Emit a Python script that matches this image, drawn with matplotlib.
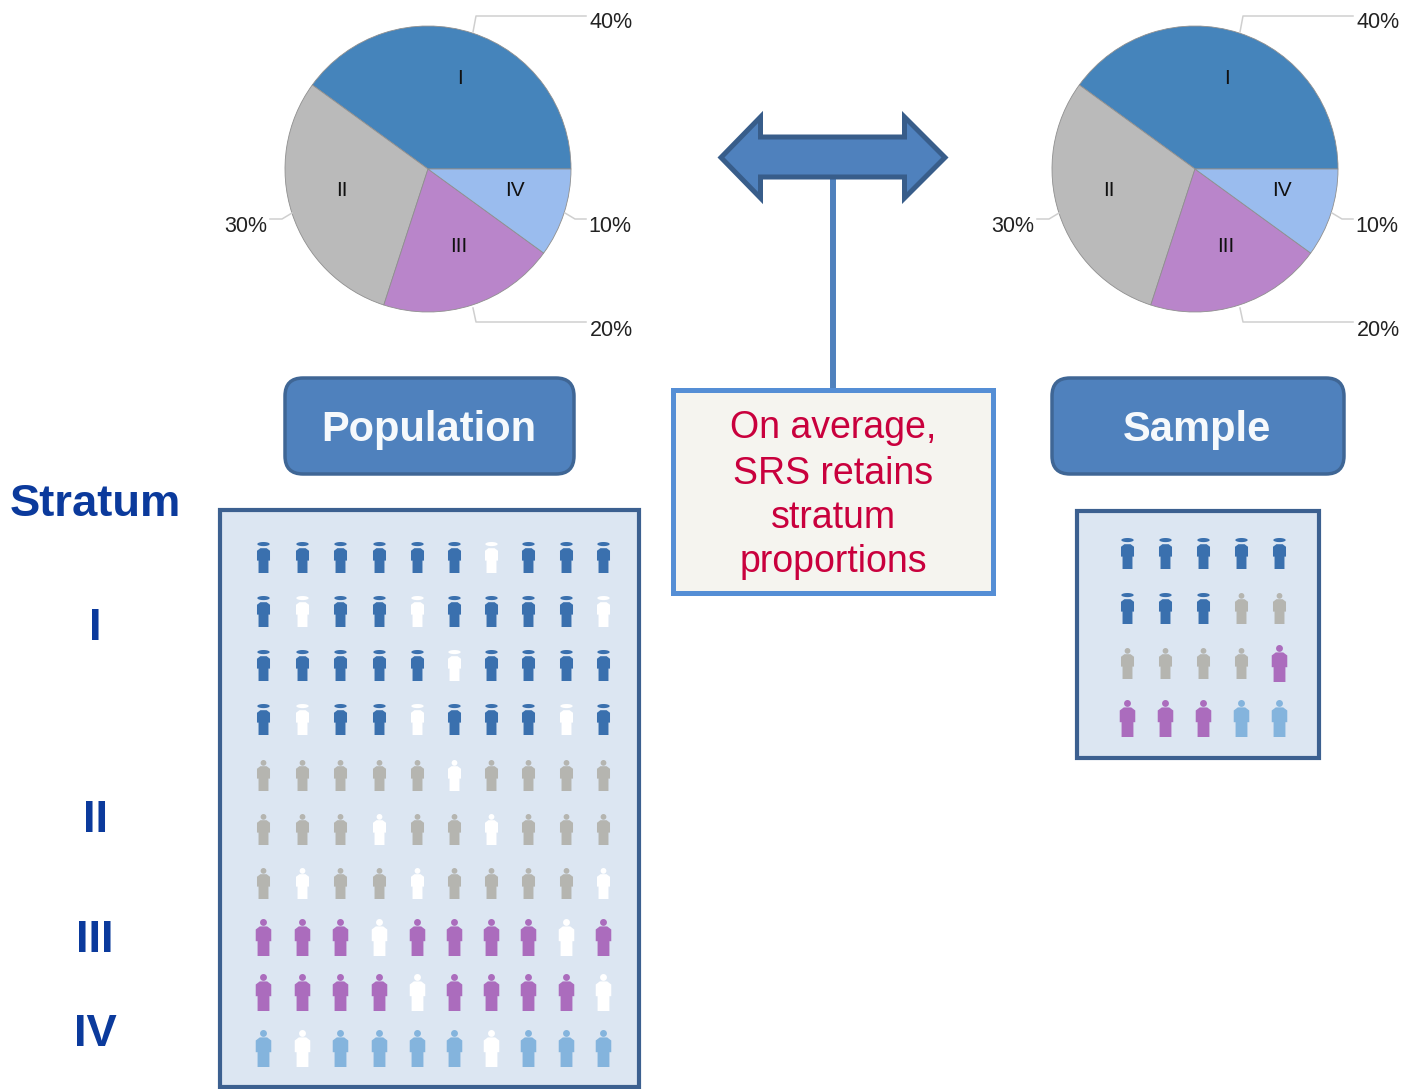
import matplotlib
matplotlib.use("Agg")
import matplotlib.pyplot as plt
from matplotlib.patches import FancyBboxPatch, Polygon, Rectangle
from matplotlib.path import Path
import numpy as np

plt.rcParams['font.family'] = ['Liberation Sans', 'DejaVu Sans']

W, H = 1403, 1089

strata = ['I', 'II', 'III', 'IV']
shares = [40, 30, 20, 10]
pie_colors = ['#4584bb', '#bababa', '#b985ca', '#9abcee']
icon_colors = ['#3a70ae', '#b5b5b0', '#ab6cbd', '#84b4dd']

# stratum index per icon row, and which icons are blanked out (row, col)
pop_rows = [0, 0, 0, 0, 1, 1, 1, 2, 2, 3]
pop_white = [(0, 6), (1, 1), (1, 4), (1, 9), (2, 5), (3, 1), (3, 4), (3, 8), (4, 5),
             (5, 3), (5, 6), (6, 1), (6, 4), (6, 9), (7, 3), (7, 8), (8, 4), (8, 9),
             (9, 1), (9, 6)]
sample_strata = [[0, 0, 0, 0, 0],
                 [0, 0, 0, 1, 1],
                 [1, 1, 1, 1, 2],
                 [2, 2, 2, 3, 3]]

pop_x = [263, 302, 340, 379, 417, 454, 491, 528, 566, 603]
pop_y = [557, 611, 665, 719, 775, 829, 883, 937, 992, 1048]
sample_x = [1127, 1165, 1203, 1241, 1279]
sample_y = [553, 608, 663, 718]

side_labels = ['Stratum', 'I', 'II', 'III', 'IV']
side_y = [501, 625, 817, 937, 1031]
note_lines = ['On average,', 'SRS retains', 'stratum', 'proportions']
note_y = [426, 471, 515, 560]

fig = plt.figure(figsize=(W / 100, H / 100), dpi=100)
ax = fig.add_axes([0, 0, 1, 1], zorder=2)
ax.set_xlim(0, W)
ax.set_ylim(H, 0)
ax.axis('off')


def person_marker(head_rx, head_ry, head_y):
    t = np.linspace(0, 2 * np.pi, 24)
    head = np.column_stack([head_rx * np.cos(t), head_y + head_ry * np.sin(t)])
    body = np.array([(-3, 9), (3, 9), (6.3, 6.5), (6.3, -3), (4.8, -3), (4.8, -15), (-4.8, -15),
                     (-4.8, -3), (-6.3, -3), (-6.3, 6.5), (-3, 9)])
    verts = np.vstack([head, body])
    codes = [Path.MOVETO] + [Path.LINETO] * 23 + [Path.MOVETO] + [Path.LINETO] * 10
    return Path(verts, codes)


# the dark blue figures look capped, the others have a small round head
MARKERS = [person_marker(6, 2, 13), person_marker(2.8, 2.8, 12.2),
           person_marker(2.8, 2.8, 12.2), person_marker(2.8, 2.8, 12.2)]
ICON_PX = [31, 31, 37, 37]


def draw_icon(x, y, stratum, color):
    size = (ICON_PX[stratum] * 0.72) ** 2
    ax.scatter(x, y, marker=MARKERS[stratum], s=size, color=color, linewidths=0, zorder=3)


def draw_pie(cx, cy, r):
    pie_ax = fig.add_axes([(cx - r) / W, (H - cy - r) / H, 2 * r / W, 2 * r / H], zorder=1)
    wedges, _ = pie_ax.pie(shares, colors=pie_colors, startangle=0, counterclock=True, radius=1,
                           wedgeprops={'edgecolor': '#8f8f8f', 'linewidth': 0.6})
    for w in wedges:
        w.set_clip_on(False)
    pie_ax.set_xlim(-1, 1)
    pie_ax.set_ylim(-1, 1)

    # leader lines and labels, relative to the pie centre
    leaders = [[(45, -137), (48, -153), (158, -153)],
               [(-136, 44), (-146, 50), (-158, 50)],
               [(137, 44), (147, 50), (158, 50)],
               [(45, 139), (48, 153), (158, 153)]]
    for pts in leaders:
        ax.plot([cx + p[0] for p in pts], [cy + p[1] for p in pts], color='#cfcfcf', lw=1.1, zorder=1)
    for txt, dx, dy in zip(['40%', '30%', '20%', '10%'], [183, -182, 183, 182], [-146, 58, 161, 58]):
        ax.text(cx + dx, cy + dy, txt, fontsize=15.5, color='#222222', ha='center', va='center')
    for txt, dx, dy in zip(strata, [32, -86, 31, 87], [-91, 21, 78, 21]):
        ax.text(cx + dx, cy + dy, txt, fontsize=15, color='#111111', ha='center', va='center', zorder=5)


def draw_button(x0, y0, x1, y1, label, size):
    ax.add_patch(FancyBboxPatch((x0 + 18, y0 + 18), x1 - x0 - 36, y1 - y0 - 36,
                                boxstyle='round,pad=18,rounding_size=18', fc='#4f81bd', ec='#3f6695', lw=2.5))
    ax.text((x0 + x1) / 2 - 1, (y0 + y1) / 2 + 4, label, fontsize=size, fontweight='bold', color='#f6f9fc',
            ha='center', va='center')


def draw_panel(x0, y0, x1, y1):
    ax.add_patch(Rectangle((x0, y0), x1 - x0, y1 - y0, fc='#dce6f2', ec='#3c6090', lw=3, joinstyle='miter'))


draw_pie(428, 169, 143)
draw_pie(1195, 169, 143)
draw_button(285, 378, 574, 474, 'Population', 30)
draw_button(1052, 378, 1344, 474, 'Sample', 30)
draw_panel(220, 510, 639, 1087)
draw_panel(1077, 511, 1319, 758)

# population icons
for r, yy in enumerate(pop_y):
    for c, xx in enumerate(pop_x):
        col = '#ffffff' if (r, c) in pop_white else icon_colors[pop_rows[r]]
        draw_icon(xx, yy, pop_rows[r], col)

# sample icons
for r, yy in enumerate(sample_y):
    for c, xx in enumerate(sample_x):
        draw_icon(xx, yy, sample_strata[r][c], icon_colors[sample_strata[r][c]])

# double arrow with connector down to the note box
ax.plot([833, 833], [178, 390], color='#4f81bd', lw=4.3, solid_capstyle='butt', zorder=2)
arrow = [(721, 157.5), (760.5, 117), (760.5, 137), (904.5, 137), (904.5, 117), (945, 157.5),
         (904.5, 198), (904.5, 177), (760.5, 177), (760.5, 198)]
ax.add_patch(Polygon(arrow, closed=True, fc='#4f81bd', ec='#385d8a', lw=3.6, joinstyle='miter', zorder=3))

ax.add_patch(Rectangle((672.5, 390), 320, 203, fc='#f5f4ef', ec='#558ed5', lw=3.6, joinstyle='miter', zorder=3))
for line, yy in zip(note_lines, note_y):
    ax.text(833, yy + 2.5, line, fontsize=27, color='#c9003d', ha='center', va='center', zorder=4)

for label, yy in zip(side_labels, side_y):
    ax.text(95, yy + 3.5, label, fontsize=32.7, fontweight='bold', color='#0b3a9c', ha='center', va='center')

fig.savefig('out.png', dpi=100)
